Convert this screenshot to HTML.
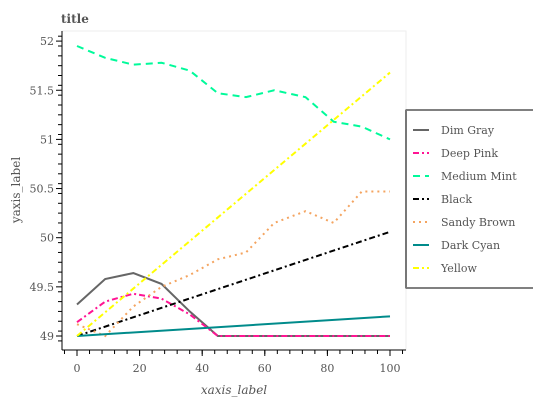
<!DOCTYPE html>
<html><head><meta charset="utf-8"><style>
body{margin:0;background:#fff;font-family:"DejaVu Serif","Liberation Serif",serif;}
svg text{fill:#555;}
</style></head><body>
<svg id="c" width="533" height="400" xmlns="http://www.w3.org/2000/svg"></svg>
<script>
const xs=[0,9,18,27,36,45,54,63,73,82,91,100];
const mint=[51.95,51.83,51.76,51.78,51.7,51.47,51.43,51.5,51.43,51.18,51.13,51.0];
const sandy=[49.12,49.0,49.3,49.5,49.62,49.78,49.85,50.15,50.27,50.15,50.47,50.47];
const dimgray=[49.32,49.58,49.64,49.53,49.25,49.0,49.0,49.0,49.0,49.0,49.0,49.0];
const pink=[49.14,49.35,49.43,49.38,49.22,49.0,49.0,49.0,49.0,49.0,49.0,49.0];
const yellow=[49.0,51.68];
const black=[49.0,50.06];
const cyan=[49.0,49.2];
const lineXs=[0,100];
const xTicks=[0,20,40,60,80,100];
const yTicks=[49,49.5,50,50.5,51,51.5,52];
const names=["Dim Gray","Deep Pink","Medium Mint","Black","Sandy Brown","Dark Cyan","Yellow"];
const NS="http://www.w3.org/2000/svg";
const svg=document.getElementById('c');
const X=v=>77+v*3.13, Y=v=>336-(v-49)*98.3;
function el(t,a,p){const e=document.createElementNS(NS,t);for(const k in a)e.setAttribute(k,a[k]);(p||svg).appendChild(e);return e;}
function txt(s,a){const e=el('text',a);e.textContent=s;return e;}
let t=txt('title',{x:61,y:23,'font-size':12,'font-weight':'bold'});

let bg=el('rect',{x:62,y:31,width:344,height:319,fill:'#fff',stroke:'#eee'});

el('line',{x1:62,y1:31,x2:62,y2:350,stroke:'#000'});
el('line',{x1:62,y1:350,x2:406,y2:350,stroke:'#000'});
for(let v=48.95;v<=52.06;v+=0.1){el('line',{x1:58,x2:62,y1:Y(v),y2:Y(v),stroke:'#000'});}
for(let v=-4;v<=104;v+=4){el('line',{x1:X(v),x2:X(v),y1:350,y2:354,stroke:'#000'});}
yTicks.forEach(v=>{el('line',{x1:56,x2:62,y1:Y(v),y2:Y(v),stroke:'#000'});
 const e=txt(String(v),{x:54,y:Y(v)+4,'font-size':11,'text-anchor':'end'});
 });
xTicks.forEach(v=>{el('line',{x1:X(v),x2:X(v),y1:350,y2:356,stroke:'#000'});
 const e=txt(String(v),{x:X(v),y:372,'font-size':11,'text-anchor':'middle'});
 });
let xl=txt('xaxis_label',{x:234,y:394,'font-size':12,'font-style':'italic','text-anchor':'middle'});

let yl=txt('yaxis_label',{x:20,y:190,'font-size':12,'text-anchor':'middle',transform:'rotate(-90 20 190)'});

const series=[
 ['dim-gray',xs,dimgray,'#666','none'],
 ['deep-pink',xs,pink,'#ff1493','6,3,2,3'],
 ['medium-mint',xs,mint,'#00fa9a','7,5'],
 ['black',lineXs,black,'#000','6,3,2,3'],
 ['sandy-brown',xs,sandy,'#f4a460','2,4'],
 ['dark-cyan',lineXs,cyan,'#008b8b','none'],
 ['yellow',lineXs,yellow,'#ffff00','6,3,2,3']];
series.forEach(s=>{
 const p=el('polyline',{points:s[1].map((x,i)=>X(x)+','+Y(s[2][i])).join(' '),fill:'none',stroke:s[3],'stroke-width':2,'stroke-dasharray':s[4]});
 });
let lg=el('rect',{x:406,y:110,width:140,height:178,fill:'#fff',stroke:'#000'});

el('line',{x1:406,y1:110,x2:406,y2:288,stroke:'#777','stroke-width':2});
names.forEach((n,i)=>{const y=130+i*23;const s=series[i];
 const ln=el('line',{x1:413,x2:429,y1:y,y2:y,stroke:s[3],'stroke-width':2,'stroke-dasharray':s[4]});
 
 const e=txt(n,{x:441,y:y+4,'font-size':11});
 });
</script>
</body></html>
